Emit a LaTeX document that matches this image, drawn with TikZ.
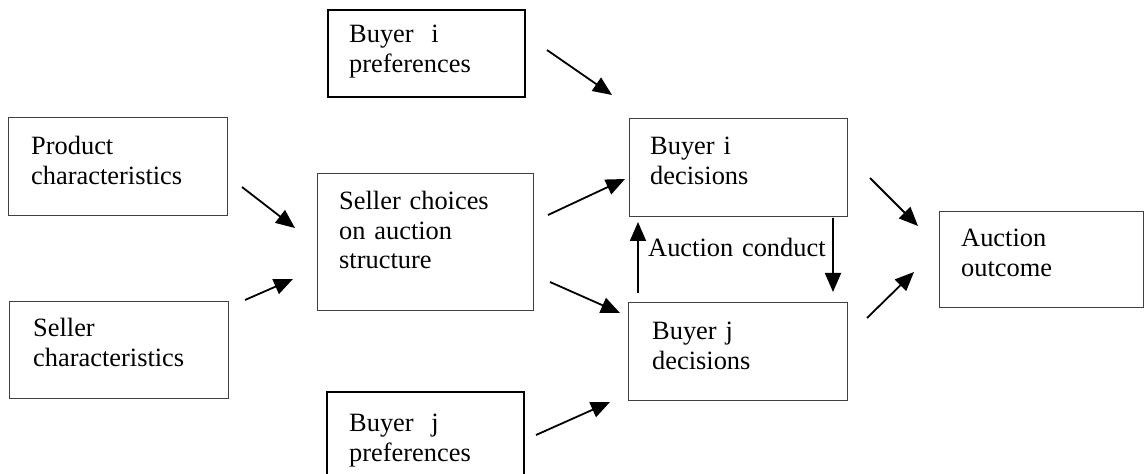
\documentclass[tikz,border=0pt]{standalone}
\usepackage{fontspec}
\setmainfont{Liberation Serif}
\usetikzlibrary{arrows.meta}

\begin{document}
\begin{tikzpicture}[x=1bp,y=-1bp,
  box/.style={draw=black!75, line width=1bp, anchor=north west, inner sep=0pt, outer sep=0pt},
  prefbox/.style={box, draw=black, line width=2bp},
  lbl/.style={anchor=base west, inner sep=0pt, align=left, text width=210bp,
              font=\fontsize{26.4bp}{29.3bp}\selectfont},
  arr/.style={line width=1.8bp, -{Triangle[length=19bp,width=16bp]}}]
\useasboundingbox (0,0) rectangle (1144,474);

% boxes
\node[prefbox, minimum width=197bp, minimum height=87bp]  (bip)    at (328,10)  {};
\node[box,     minimum width=219bp, minimum height=98bp]  (prod)   at (8,118)   {};
\node[box,     minimum width=219bp, minimum height=96bp]  (sellc)  at (9,302)   {};
\node[box,     minimum width=216bp, minimum height=137bp] (choice) at (317,174) {};
\node[box,     minimum width=218bp, minimum height=98bp]  (bid)    at (629,119) {};
\node[box,     minimum width=219bp, minimum height=97bp]  (bjd)    at (628,303) {};
\node[prefbox, minimum width=197bp, minimum height=92bp]  (bjp)    at (327,392) {};
\node[box,     minimum width=204bp, minimum height=96bp]  (out)    at (939,212) {};

% labels
\node[lbl] (biptxt)    at (349,43)  {Buyer\ \ i\\preferences};
\node[lbl] (prodtxt)   at (31,155)  {Product\\characteristics};
\node[lbl] (sellctxt)  at (33,337)  {Seller\\characteristics};
\node[lbl] (choicetxt) at (339,210) {Seller choices\\on auction\\structure};
\node[lbl] (bidtxt)    at (650,155) {Buyer i\\decisions};
\node[lbl] (bjdtxt)    at (652,340) {Buyer j\\decisions};
\node[lbl] (bjptxt)    at (349,432) {Buyer\ \ j\\preferences};
\node[lbl] (outtxt)    at (961,247) {Auction\\outcome};
\node[lbl] (conduct)   at (648,257) {Auction conduct};

% connectors
\draw[arr] ([shift={(22,40)}]bip.north east)    -- ([shift={(-17,-24)}]bid.north west);
\draw[arr] ([shift={(15,20)}]prod.east)         -- ([shift={(-22,-14.5)}]choice.west);
\draw[arr] ([shift={(17,-2)}]sellc.north east)  -- ([shift={(-24,36.5)}]choice.west);
\draw[arr] ([shift={(15,-27.5)}]choice.east)    -- ([shift={(-4,11)}]bid.west);
\draw[arr] ([shift={(17,39.5)}]choice.east)     -- ([shift={(-8,10)}]bjd.north west);
\draw[arr] ([shift={(10,-10)}]bjd.north west)   -- ([shift={(9,5)}]bid.south west);
\draw[arr] ([shift={(-14,1)}]bid.south east)    -- ([shift={(-14,-11)}]bjd.north east);
\draw[arr] ([shift={(12,43)}]bjp.north east)    -- ([shift={(-18,2)}]bjd.south west);
\draw[arr] ([shift={(23,-39)}]bid.south east)   -- ([shift={(-21,14)}]out.north west);
\draw[arr] ([shift={(20,15)}]bjd.north east)    -- ([shift={(-25,-36)}]out.south west);
\end{tikzpicture}
\end{document}
